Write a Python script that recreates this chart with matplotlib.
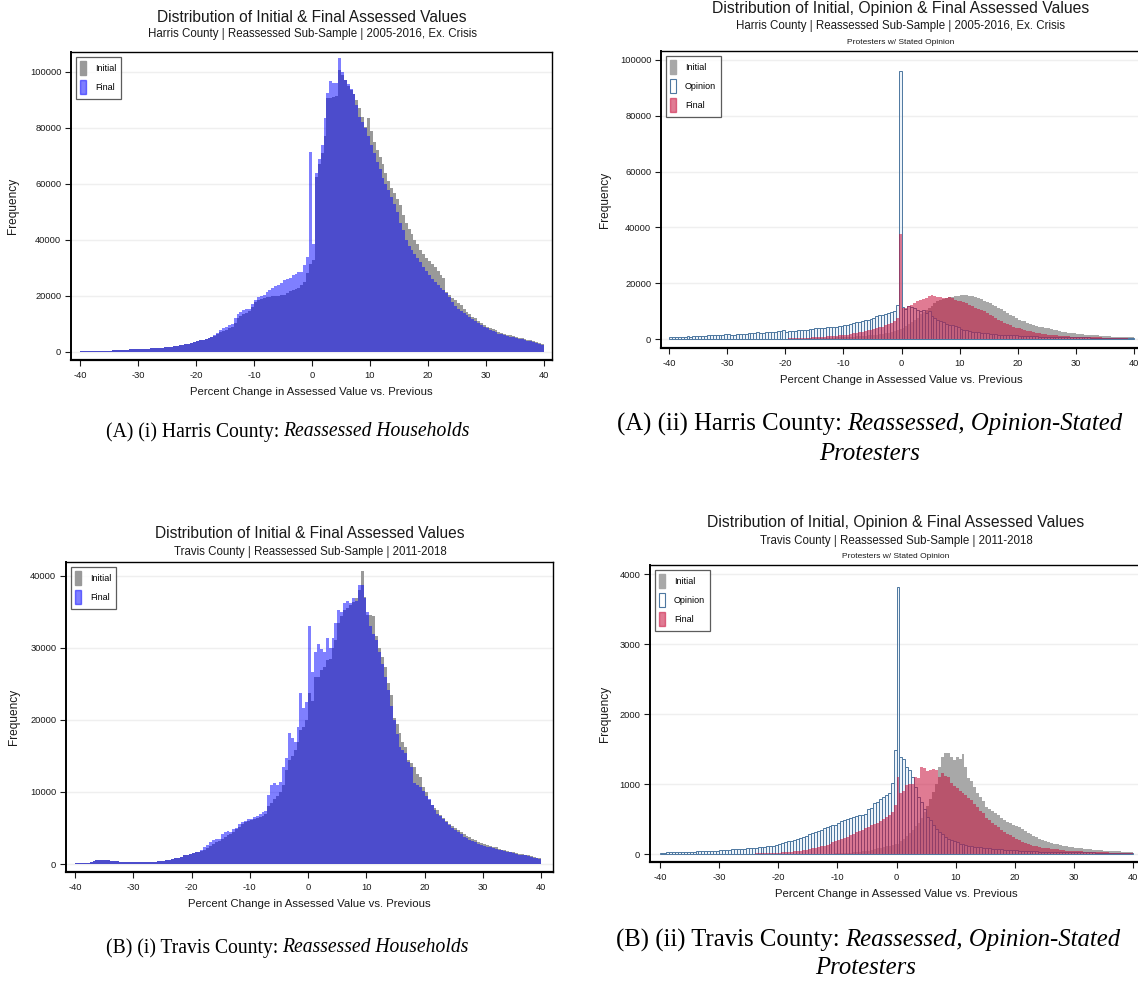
import numpy as np
import matplotlib
matplotlib.use("Agg")
import matplotlib.pyplot as plt
from matplotlib.patches import Patch

# ---------------- data (bin width 0.5, from -40 to 40) ----------------
BIN_LO, BIN_HI, BIN_W = -40, 40, 0.5
XTICKS = [-40, -30, -20, -10, 0, 10, 20, 30, 40]

# Harris, reassessed households (thousands)
A1_INITIAL = [
    0.2, 0.2, 0.3, 0.3, 0.3, 0.4, 0.4, 0.4, 0.5, 0.5,
    0.5, 0.6, 0.6, 0.7, 0.7, 0.8, 0.8, 0.9, 0.9, 1.0,
    1.0, 1.1, 1.1, 1.2, 1.3, 1.3, 1.4, 1.5, 1.6, 1.7,
    1.8, 1.9, 2.0, 2.2, 2.4, 2.6, 2.8, 3.0, 3.3, 3.6,
    4.0, 4.2, 4.4, 4.6, 5.0, 5.4, 5.8, 6.4, 7.0, 7.5,
    8.0, 8.5, 9.0, 10.5, 12.0, 13.0, 13.7, 14.0, 14.5, 16.0,
    17.9, 18.5, 19.0, 19.3, 19.6, 19.8, 20.0, 20.0, 20.1, 20.2,
    20.2, 21.0, 21.9, 22.2, 22.5, 23.0, 23.8, 25.0, 28.2, 31.5,
    33.0, 62.6, 67.0, 71.0, 77.0, 90.7, 90.7, 91.0, 91.5, 100.6,
    99.0, 97.0, 95.0, 93.7, 92.0, 90.0, 87.0, 84.0, 80.5, 83.5,
    79.0, 75.0, 72.0, 69.5, 67.0, 64.0, 61.0, 58.7, 56.7, 54.5,
    52.5, 49.0, 46.0, 44.0, 42.0, 40.0, 38.5, 36.4, 35.0, 33.5,
    32.5, 31.5, 30.4, 29.0, 27.5, 26.5, 21.5, 20.5, 19.2, 18.5,
    17.5, 16.7, 15.5, 14.3, 13.5, 12.5, 12.0, 11.0, 10.2, 9.6,
    9.0, 8.6, 8.2, 7.8, 7.3, 6.9, 6.5, 6.2, 5.9, 5.6,
    5.3, 5.1, 4.9, 4.7, 4.4, 4.2, 3.9, 3.6, 3.2, 2.8]
A1_FINAL = [
    0.2, 0.2, 0.3, 0.3, 0.3, 0.4, 0.4, 0.4, 0.5, 0.5,
    0.5, 0.6, 0.6, 0.7, 0.7, 0.8, 0.8, 0.9, 0.9, 1.0,
    1.0, 1.1, 1.1, 1.2, 1.3, 1.3, 1.4, 1.5, 1.6, 1.7,
    1.8, 1.9, 2.0, 2.2, 2.4, 2.6, 2.8, 3.0, 3.3, 3.6,
    4.0, 4.2, 4.4, 4.6, 5.0, 5.4, 6.0, 6.8, 7.8, 8.4,
    9.0, 9.5, 10.0, 12.0, 13.7, 14.3, 15.0, 15.3, 15.5, 17.0,
    18.7, 19.5, 20.0, 20.5, 21.4, 22.2, 23.0, 23.4, 23.8, 24.6,
    25.6, 26.0, 26.5, 27.5, 28.0, 28.5, 28.6, 31.0, 34.0, 71.4,
    38.7, 64.0, 69.0, 74.0, 83.5, 92.5, 96.7, 96.0, 96.0, 105.0,
    100.0, 97.0, 95.5, 94.0, 92.0, 88.0, 84.0, 82.0, 80.0, 77.0,
    74.0, 71.0, 68.0, 65.5, 62.0, 60.0, 58.0, 55.5, 53.0, 50.0,
    46.0, 43.5, 40.0, 38.0, 36.5, 35.0, 33.5, 32.0, 30.5, 29.0,
    27.5, 26.0, 25.0, 24.0, 23.0, 22.0, 21.0, 19.5, 18.0, 16.5,
    15.5, 14.8, 13.9, 13.2, 12.4, 11.6, 10.9, 10.2, 9.6, 9.0,
    8.4, 8.0, 7.5, 7.0, 6.6, 6.3, 6.0, 5.7, 5.4, 5.2,
    5.0, 4.8, 4.6, 4.4, 4.1, 3.8, 3.5, 3.2, 2.8, 2.4]

# Harris, opinion-stated protesters (thousands)
A2_INITIAL = [
    0.0, 0.0, 0.0, 0.0, 0.0, 0.0, 0.0, 0.0, 0.0, 0.0,
    0.0, 0.0, 0.0, 0.0, 0.0, 0.0, 0.0, 0.0, 0.0, 0.0,
    0.0, 0.0, 0.0, 0.0, 0.0, 0.0, 0.0, 0.0, 0.1, 0.1,
    0.1, 0.1, 0.1, 0.1, 0.1, 0.1, 0.1, 0.1, 0.1, 0.1,
    0.1, 0.1, 0.2, 0.2, 0.2, 0.2, 0.2, 0.3, 0.3, 0.3,
    0.3, 0.4, 0.4, 0.4, 0.5, 0.5, 0.5, 0.6, 0.6, 0.7,
    0.7, 0.8, 0.8, 0.9, 1.0, 1.0, 1.1, 1.2, 1.3, 1.4,
    1.5, 1.6, 1.8, 1.9, 2.1, 2.3, 2.5, 2.8, 3.1, 3.5,
    4.0, 4.7, 5.5, 6.2, 7.0, 7.5, 9.0, 9.6, 10.5, 11.0,
    12.0, 12.8, 13.5, 14.0, 14.5, 14.8, 15.0, 15.1, 15.3, 15.5,
    15.9, 15.9, 15.8, 15.6, 15.3, 15.0, 14.6, 14.2, 13.8, 13.4,
    12.9, 12.3, 11.7, 11.2, 10.6, 9.9, 9.4, 8.8, 8.1, 7.6,
    7.0, 6.6, 6.3, 5.9, 5.5, 5.1, 4.8, 4.5, 4.2, 4.0,
    4.0, 3.7, 3.4, 3.1, 2.9, 2.7, 2.5, 2.3, 2.1, 2.0,
    1.9, 1.8, 1.7, 1.6, 1.5, 1.4, 1.3, 1.3, 1.2, 1.1,
    1.0, 1.0, 0.9, 0.9, 0.8, 0.8, 0.7, 0.7, 0.6, 0.6]
A2_OPINION = [
    0.7, 0.7, 0.8, 0.8, 0.9, 0.9, 1.0, 0.9, 1.0, 1.1,
    1.2, 1.1, 1.2, 1.3, 1.4, 1.3, 1.4, 1.5, 1.6, 1.7,
    1.7, 1.5, 1.6, 1.7, 1.8, 1.9, 1.9, 2.0, 2.1, 2.2,
    2.4, 2.2, 2.3, 2.5, 2.6, 2.4, 2.7, 2.8, 2.9, 3.1,
    2.6, 2.8, 2.9, 3.0, 3.2, 3.3, 3.4, 3.4, 3.5, 3.6,
    3.8, 3.8, 3.9, 4.0, 4.2, 4.3, 4.5, 4.5, 4.6, 4.8,
    5.0, 5.2, 5.4, 5.6, 6.0, 6.2, 6.6, 6.8, 7.0, 7.2,
    7.7, 8.1, 8.6, 8.8, 9.1, 9.4, 9.6, 10.0, 12.2, 95.9,
    11.5, 10.8, 11.7, 11.4, 11.0, 10.5, 10.0, 10.3, 9.3, 10.0,
    8.1, 7.5, 7.0, 6.3, 6.0, 5.5, 5.1, 4.9, 4.8, 4.2,
    3.6, 3.3, 3.1, 2.8, 2.6, 2.5, 2.4, 2.3, 2.2, 2.0,
    1.9, 1.8, 1.7, 1.6, 1.6, 1.5, 1.4, 1.4, 1.3, 1.3,
    1.2, 1.2, 1.1, 1.1, 1.0, 1.0, 1.0, 0.9, 0.9, 0.9,
    0.8, 0.8, 0.8, 0.8, 0.7, 0.7, 0.7, 0.7, 0.7, 0.6,
    0.6, 0.6, 0.6, 0.6, 0.6, 0.5, 0.5, 0.5, 0.5, 0.5,
    0.5, 0.5, 0.5, 0.5, 0.4, 0.4, 0.4, 0.4, 0.4, 0.4]
A2_FINAL = [
    0.0, 0.0, 0.0, 0.0, 0.0, 0.0, 0.0, 0.0, 0.0, 0.0,
    0.0, 0.0, 0.0, 0.0, 0.0, 0.0, 0.0, 0.0, 0.0, 0.0,
    0.0, 0.0, 0.0, 0.0, 0.0, 0.0, 0.0, 0.0, 0.1, 0.1,
    0.1, 0.1, 0.1, 0.1, 0.1, 0.1, 0.1, 0.2, 0.2, 0.2,
    0.2, 0.3, 0.3, 0.3, 0.4, 0.4, 0.4, 0.5, 0.5, 0.6,
    0.7, 0.7, 0.8, 0.9, 1.0, 1.0, 1.1, 1.2, 1.3, 1.3,
    1.4, 1.6, 1.8, 2.0, 2.2, 2.4, 2.6, 2.8, 3.1, 3.4,
    3.7, 4.0, 4.2, 4.5, 5.0, 5.5, 5.9, 6.3, 7.5, 37.8,
    11.1, 11.0, 11.7, 12.3, 12.9, 13.5, 14.1, 14.4, 14.7, 15.3,
    15.9, 15.4, 15.1, 14.9, 14.7, 14.8, 15.0, 14.6, 14.1, 13.8,
    13.5, 13.2, 12.9, 12.3, 11.7, 11.2, 10.8, 10.3, 9.9, 9.3,
    8.7, 8.1, 7.5, 6.9, 6.3, 5.8, 5.4, 4.9, 4.5, 4.1,
    3.8, 3.5, 3.3, 3.0, 2.8, 2.6, 2.3, 2.1, 1.9, 1.7,
    1.6, 1.5, 1.4, 1.3, 1.2, 1.2, 1.1, 1.0, 0.9, 0.9,
    0.8, 0.8, 0.7, 0.7, 0.7, 0.6, 0.6, 0.6, 0.6, 0.5,
    0.5, 0.5, 0.4, 0.4, 0.4, 0.3, 0.3, 0.3, 0.2, 0.2]

# Travis, reassessed households (thousands)
B1_INITIAL = [
    0.1, 0.1, 0.1, 0.2, 0.2, 0.3, 0.4, 0.5, 0.6, 0.6,
    0.5, 0.5, 0.4, 0.4, 0.4, 0.3, 0.3, 0.3, 0.3, 0.3,
    0.3, 0.3, 0.3, 0.3, 0.3, 0.3, 0.3, 0.3, 0.4, 0.4,
    0.4, 0.5, 0.6, 0.7, 0.8, 0.9, 1.0, 1.2, 1.3, 1.4,
    1.5, 1.6, 1.7, 1.8, 2.0, 2.2, 2.5, 2.8, 3.0, 3.2,
    3.5, 3.8, 4.0, 4.2, 4.5, 4.8, 5.2, 5.5, 5.8, 6.0,
    6.1, 6.2, 6.4, 6.5, 6.7, 7.0, 8.0, 8.5, 9.0, 9.5,
    10.0, 11.0, 13.0, 14.4, 15.0, 15.8, 17.0, 18.6, 19.0, 20.0,
    23.7, 22.7, 26.0, 26.0, 27.0, 27.4, 28.3, 28.5, 30.0, 31.1,
    33.4, 34.5, 35.3, 35.5, 36.0, 36.4, 37.0, 38.0, 40.7, 37.1,
    34.6, 34.6, 34.5, 31.6, 30.0, 28.8, 27.4, 25.1, 23.5, 20.3,
    19.5, 18.2, 17.0, 16.3, 14.4, 14.0, 13.5, 12.5, 12.1, 10.7,
    10.0, 8.9, 8.2, 7.8, 7.5, 6.8, 6.4, 6.0, 5.6, 5.3,
    5.0, 4.7, 4.4, 4.1, 3.9, 3.7, 3.5, 3.3, 3.1, 2.9,
    2.8, 2.6, 2.5, 2.4, 2.3, 2.1, 2.0, 1.9, 1.8, 1.7,
    1.6, 1.5, 1.4, 1.4, 1.3, 1.2, 1.1, 1.0, 0.9, 0.8]
B1_FINAL = [
    0.1, 0.1, 0.1, 0.2, 0.2, 0.3, 0.4, 0.5, 0.6, 0.6,
    0.5, 0.5, 0.4, 0.4, 0.4, 0.3, 0.3, 0.3, 0.3, 0.3,
    0.3, 0.3, 0.3, 0.3, 0.3, 0.3, 0.3, 0.3, 0.4, 0.4,
    0.4, 0.5, 0.6, 0.7, 0.8, 0.9, 1.0, 1.2, 1.3, 1.4,
    1.5, 1.6, 1.7, 1.9, 2.3, 2.6, 3.0, 3.3, 3.5, 3.5,
    4.1, 4.4, 4.6, 4.5, 4.8, 5.0, 5.5, 5.8, 6.0, 6.3,
    6.3, 6.5, 6.7, 6.9, 7.2, 7.3, 9.6, 11.0, 11.2, 11.0,
    11.4, 13.5, 14.7, 18.2, 17.5, 17.0, 19.0, 23.7, 21.7, 22.5,
    33.0, 26.7, 29.5, 30.6, 29.8, 29.5, 31.4, 30.0, 31.4, 33.5,
    35.3, 35.0, 36.2, 36.5, 36.2, 37.0, 36.5, 38.7, 38.7, 37.0,
    35.0, 33.0, 32.0, 31.1, 29.5, 27.8, 26.0, 24.2, 22.0, 20.0,
    18.0, 16.3, 15.8, 15.4, 14.2, 13.5, 11.2, 11.0, 10.7, 10.2,
    9.4, 9.0, 8.2, 7.5, 7.0, 6.6, 6.2, 5.8, 5.4, 5.0,
    4.7, 4.4, 4.1, 3.8, 3.6, 3.4, 3.2, 3.0, 2.8, 2.6,
    2.5, 2.4, 2.3, 2.2, 2.1, 2.0, 1.9, 1.8, 1.7, 1.6,
    1.5, 1.4, 1.3, 1.3, 1.2, 1.1, 1.0, 0.9, 0.8, 0.7]

# Travis, opinion-stated protesters (counts)
B2_INITIAL = [
    0, 0, 0, 0, 0, 0, 0, 0, 0, 0,
    0, 0, 0, 0, 0, 0, 0, 0, 0, 0,
    0, 0, 0, 0, 0, 0, 0, 0, 0, 0,
    0, 0, 0, 0, 0, 0, 0, 0, 0, 0,
    0, 0, 1, 1, 1, 1, 2, 2, 2, 2,
    2, 3, 3, 4, 4, 5, 5, 6, 7, 8,
    10, 12, 15, 18, 20, 25, 30, 35, 40, 45,
    50, 60, 70, 80, 90, 100, 110, 120, 130, 140,
    150, 180, 220, 260, 300, 350, 400, 450, 520, 600,
    680, 780, 880, 1000, 1240, 1390, 1443, 1443, 1390, 1340,
    1390, 1360, 1433, 1250, 1085, 1050, 960, 871, 820, 760,
    676, 650, 620, 590, 557, 520, 480, 460, 443, 420,
    400, 390, 360, 330, 300, 280, 260, 240, 220, 200,
    185, 170, 160, 150, 140, 130, 120, 110, 100, 95,
    90, 85, 80, 75, 70, 65, 62, 58, 55, 52,
    50, 47, 45, 42, 40, 38, 35, 33, 30, 28]
B2_OPINION = [
    20, 20, 25, 25, 25, 30, 30, 30, 30, 35,
    35, 35, 40, 40, 40, 45, 45, 50, 50, 50,
    55, 55, 60, 60, 65, 65, 70, 70, 75, 80,
    85, 85, 90, 95, 100, 105, 110, 115, 120, 130,
    150, 160, 170, 180, 190, 200, 215, 230, 245, 260,
    280, 300, 315, 330, 350, 370, 390, 400, 410, 420,
    450, 465, 480, 500, 520, 533, 545, 553, 560, 570,
    640, 660, 728, 750, 790, 820, 850, 871, 1019, 1486,
    3819, 1386, 1352, 1250, 1200, 1105, 962, 820, 750, 650,
    530, 480, 414, 360, 320, 280, 250, 220, 200, 180,
    165, 150, 140, 130, 120, 110, 105, 100, 95, 90,
    85, 80, 75, 70, 68, 65, 62, 60, 58, 55,
    52, 50, 48, 46, 44, 42, 40, 38, 36, 35,
    34, 33, 32, 31, 30, 29, 28, 27, 26, 25,
    25, 24, 24, 23, 23, 22, 22, 21, 21, 20,
    20, 20, 19, 19, 18, 18, 18, 17, 17, 17]
B2_FINAL = [
    0, 0, 0, 0, 0, 0, 0, 0, 0, 0,
    0, 0, 0, 0, 0, 0, 0, 0, 0, 0,
    0, 0, 0, 0, 5, 5, 5, 5, 5, 5,
    5, 5, 10, 10, 10, 10, 15, 15, 15, 20,
    20, 25, 25, 30, 35, 40, 45, 50, 55, 60,
    70, 80, 90, 100, 110, 120, 135, 150, 165, 180,
    200, 215, 230, 250, 270, 290, 310, 330, 350, 370,
    390, 410, 430, 450, 470, 500, 530, 560, 600, 700,
    1105, 871, 900, 986, 1000, 1000, 1105, 1080, 1238, 1230,
    1180, 1200, 1210, 1200, 1105, 1157, 1120, 1105, 1014, 970,
    940, 900, 871, 840, 800, 770, 720, 676, 620, 580,
    520, 490, 450, 414, 380, 350, 320, 290, 265, 240,
    215, 195, 175, 160, 145, 130, 120, 110, 100, 90,
    85, 80, 75, 70, 65, 60, 55, 50, 48, 45,
    42, 40, 38, 36, 34, 32, 30, 28, 26, 25,
    24, 22, 20, 18, 16, 15, 14, 13, 12, 10]

for _s in (A1_INITIAL, A1_FINAL, A2_INITIAL, A2_OPINION, A2_FINAL,
           B1_INITIAL, B1_FINAL, B2_INITIAL, B2_OPINION, B2_FINAL):
    assert len(_s) == 160, len(_s)

# ---------------- styling ----------------
W, H = 1138, 981
SANS = "Liberation Sans"
SERIF = "Liberation Serif"
GRAY1 = "#999999"
GRAY2 = "#a8a8a8"
BLUE = (0.0, 0.0, 1.0, 0.5)
PINK = (0.78, 0.06, 0.23, 0.55)
OPIN_EDGE = "#4d77a0"
OPIN_FACE = (0.86, 0.91, 0.96, 0.45)
TXT = "#1a1a1a"

fig = plt.figure(figsize=(W / 100, H / 100), dpi=100)
edges = np.arange(BIN_LO, BIN_HI, BIN_W)


def ax_at(l, t, r, b):
    return fig.add_axes([l / W, 1 - b / H, (r - l) / W, (b - t) / H])


def style_axes(ax, xlim, ylim, yticks, ylabels, ylabelpad):
    ax.set_xlim(*xlim)
    ax.set_ylim(*ylim)
    ax.set_xticks(XTICKS)
    ax.set_xticklabels([str(v) for v in XTICKS])
    ax.set_yticks(yticks)
    ax.set_yticklabels(ylabels)
    ax.tick_params(axis="both", direction="out", length=4, width=0.8,
                   labelsize=6.7, colors=TXT, pad=3)
    ax.tick_params(axis="x", pad=4)
    ax.tick_params(top=False, right=False)
    for sp in ax.spines.values():
        sp.set_color("black")
        sp.set_linewidth(1.0)
    ax.spines["left"].set_linewidth(1.4)
    ax.spines["bottom"].set_linewidth(1.6)
    ax.set_axisbelow(True)
    ax.yaxis.grid(True, color="#efefef", linewidth=1.0)
    ax.set_ylabel("Frequency", fontsize=8.6, family=SANS, color=TXT,
                  labelpad=ylabelpad)
    ax.set_xlabel("Percent Change in Assessed Value vs. Previous",
                  fontsize=8.2, family=SANS, color=TXT, labelpad=5)
    for lab in ax.get_xticklabels() + ax.get_yticklabels():
        lab.set_family(SANS)


def legend(ax, handles, labels):
    lg = ax.legend(handles, labels, loc="upper left",
                   frameon=True, fancybox=False, edgecolor="#333333",
                   handlelength=0.6, handleheight=2.0, handletextpad=1.0,
                   borderpad=0.5, labelspacing=0.55, borderaxespad=0.55,
                   prop={"family": SANS, "size": 6.5})
    lg.get_frame().set_linewidth(0.9)


def two_series(ax, init, final, scale, init_color):
    ax.bar(edges, np.array(init) * scale, width=BIN_W, align="edge",
           color=init_color, linewidth=0)
    ax.bar(edges, np.array(final) * scale, width=BIN_W, align="edge",
           color=BLUE, linewidth=0)


def three_series(ax, init, opin, final, scale):
    ax.bar(edges, np.array(init) * scale, width=BIN_W, align="edge",
           color=GRAY2, linewidth=0)
    ax.bar(edges, np.array(opin) * scale, width=BIN_W, align="edge",
           facecolor=OPIN_FACE, edgecolor=OPIN_EDGE, linewidth=0.7)
    ax.bar(edges, np.array(final) * scale, width=BIN_W, align="edge",
           color=PINK, linewidth=0)


def titles(cx, lines):
    for y, txt, size in lines:
        fig.text(cx / W, 1 - y / H, txt, ha="center", va="center",
                 fontsize=size, family=SANS, color=TXT)


# ---- A (i) ----
ax1 = ax_at(71, 52, 552, 360)
two_series(ax1, A1_INITIAL, A1_FINAL, 1000, GRAY1)
style_axes(ax1, (-41.55, 41.4), (-2860, 107100),
           [0, 20000, 40000, 60000, 80000, 100000],
           ["0", "20000", "40000", "60000", "80000", "100000"], 8)
legend(ax1, [Patch(color=GRAY1), Patch(color=BLUE)], ["Initial", "Final"])
titles(312, [(18, "Distribution of Initial & Final Assessed Values", 11.2),
             (34, "Harris County | Reassessed Sub-Sample | 2005-2016, Ex. Crisis", 8.3)])

# ---- A (ii) ----
ax2 = ax_at(661, 51, 1142, 348)
three_series(ax2, A2_INITIAL, A2_OPINION, A2_FINAL, 1000)
style_axes(ax2, (-41.4, 41.4), (-3200, 103200),
           [0, 20000, 40000, 60000, 80000, 100000],
           ["0", "20000", "40000", "60000", "80000", "100000"], 6)
legend(ax2, [Patch(color=GRAY2), Patch(facecolor="white", edgecolor=OPIN_EDGE, linewidth=0.8),
             Patch(color=PINK)], ["Initial", "Opinion", "Final"])
titles(901, [(8, "Distribution of Initial, Opinion & Final Assessed Values", 11.3),
             (26, "Harris County | Reassessed Sub-Sample | 2005-2016, Ex. Crisis", 8.3),
             (43, "Protesters w/ Stated Opinion", 6.0)])

# ---- B (i) ----
ax3 = ax_at(66, 562, 553, 872)
two_series(ax3, B1_INITIAL, B1_FINAL, 1000, GRAY1)
style_axes(ax3, (-41.55, 42.0), (-1110, 41940),
           [0, 10000, 20000, 30000, 40000],
           ["0", "10000", "20000", "30000", "40000"], 7)
legend(ax3, [Patch(color=GRAY1), Patch(color=BLUE)], ["Initial", "Final"])
titles(310, [(533, "Distribution of Initial & Final Assessed Values", 11.2),
             (552, "Travis County | Reassessed Sub-Sample | 2011-2018", 8.3)])

# ---- B (ii) ----
ax4 = ax_at(650, 565, 1143, 862)
three_series(ax4, B2_INITIAL, B2_OPINION, B2_FINAL, 1)
style_axes(ax4, (-41.7, 41.7), (-114, 4129),
           [0, 1000, 2000, 3000, 4000],
           ["0", "1000", "2000", "3000", "4000"], 6)
legend(ax4, [Patch(color=GRAY2), Patch(facecolor="white", edgecolor=OPIN_EDGE, linewidth=0.8),
             Patch(color=PINK)], ["Initial", "Opinion", "Final"])
titles(896, [(522, "Distribution of Initial, Opinion & Final Assessed Values", 11.3),
             (541, "Travis County | Reassessed Sub-Sample | 2011-2018", 8.3),
             (557, "Protesters w/ Stated Opinion", 6.0)])

# ---------------- captions ----------------
fig.canvas.draw()
renderer = fig.canvas.get_renderer()


def caption(cx, y, parts, size):
    objs = []
    for txt, st in parts:
        objs.append(fig.text(0, 1 - y / H, txt, fontsize=size, family=SERIF,
                             style=st, ha="left", va="center", color="black"))
    widths = [o.get_window_extent(renderer).width for o in objs]
    gap = size * 0.3
    total = sum(widths) + gap * (len(objs) - 1)
    x = cx - total / 2
    for o, w in zip(objs, widths):
        o.set_x(x / W)
        x += w + gap


caption(288, 432, [("(A) (i) Harris County:", "normal"), ("Reassessed Households", "italic")], 14.1)
caption(870, 424, [("(A) (ii) Harris County:", "normal"), ("Reassessed, Opinion-Stated", "italic")], 17.8)
caption(870, 454, [("Protesters", "italic")], 17.8)
caption(287, 948, [("(B) (i) Travis County:", "normal"), ("Reassessed Households", "italic")], 14.1)
caption(868, 940, [("(B) (ii) Travis County:", "normal"), ("Reassessed, Opinion-Stated", "italic")], 17.8)
caption(866, 968, [("Protesters", "italic")], 17.8)

fig.savefig("out.png", dpi=100)
